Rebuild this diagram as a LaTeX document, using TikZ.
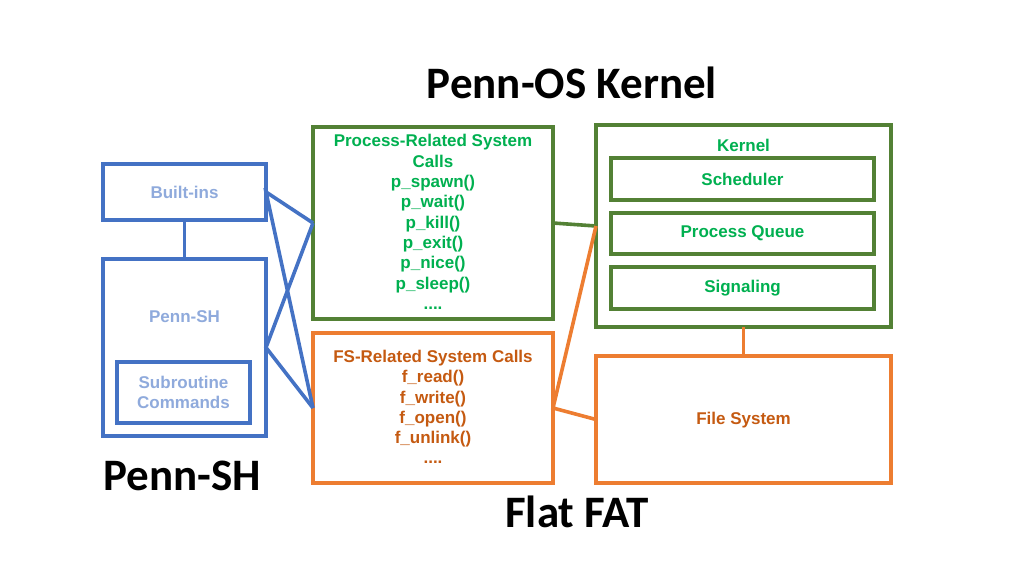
\documentclass[tikz,border=0pt]{standalone}
\usepackage{fontspec}
\setmainfont{Liberation Sans}
\newfontfamily\titlefont{Carlito}
\definecolor{bblue}{HTML}{4472C4}
\definecolor{tblue}{HTML}{8FAADC}
\definecolor{bgreen}{HTML}{538135}
\definecolor{tgreen}{HTML}{00B050}
\definecolor{borange}{HTML}{ED7D31}
\definecolor{torange}{HTML}{C55A11}
\begin{document}
\begin{tikzpicture}[x=1pt,y=-1pt,
  box/.style={draw,line width=3.6pt,inner sep=0pt,outer sep=0pt,fill=white},
  bluebox/.style={box,draw=bblue},
  greenbox/.style={box,draw=bgreen},
  orangebox/.style={box,draw=borange},
  txt/.style={inner sep=0pt,align=center,font=\fontsize{17}{20.3}\selectfont\bfseries},
  bluetxt/.style={txt,text=tblue},
  greentxt/.style={txt,text=tgreen},
  orangetxt/.style={txt,text=torange},
  title/.style={inner sep=0pt,font=\titlefont\fontsize{45}{50}\selectfont\bfseries,text=black},
  blueline/.style={draw=bblue,line width=3.6pt},
  greenline/.style={draw=bgreen,line width=3.6pt},
  orangeline/.style={draw=borange,line width=3.6pt}]
\useasboundingbox (0,0) rectangle (1024,576);
% connectors first (behind boxes)
\coordinate (ph) at (184.5,347.5);
% boxes
\node[bluebox,minimum width=163pt,minimum height=56pt] (builtins) at (184.5,192) {};
\node[bluebox,minimum width=163pt,minimum height=177pt] (pennsh) at (184.5,347.5) {};
\node[bluebox,minimum width=133pt,minimum height=61pt] (subr) at (183.5,392.5) {};
\node[greenbox,minimum width=240pt,minimum height=192pt] (proc) at (433,223) {};
\node[orangebox,minimum width=240pt,minimum height=150pt] (fs) at (433,408) {};
\node[greenbox,minimum width=295pt,minimum height=202pt] (kernel) at (743.5,226) {};
\node[greenbox,minimum width=263pt,minimum height=42pt] (sched) at (742.5,179) {};
\node[greenbox,minimum width=263pt,minimum height=41pt] (pq) at (742.5,233.5) {};
\node[greenbox,minimum width=263pt,minimum height=42pt] (sig) at (742.5,288) {};
\node[orangebox,minimum width=295pt,minimum height=127pt] (filesys) at (743.5,419.5) {};
% connectors
\draw[blueline] (builtins.south) -- (pennsh.north);
\draw[blueline,line join=miter] (proc.west) -- (builtins.east) -- (fs.west);
\draw[blueline,line join=miter] (proc.west) -- (pennsh.east) -- (fs.west);
\draw[greenline] (proc.east) -- (kernel.west);
\draw[orangeline,line join=miter] (kernel.west) -- (fs.east) -- (filesys.west);
\draw[orangeline] (kernel.south) -- (filesys.north);
% texts
\node[bluetxt] (tbuiltins) at (184.5,192) {Built-ins};
\node[bluetxt] (tpennsh) at (184.5,317) {Penn-SH};
\node[bluetxt] (tsubr) at (183.5,392.5) {Subroutine\\Commands};
\node[greentxt] (tproc) at (433,222) {Process-Related System\\Calls\\p\_spawn()\\p\_wait()\\p\_kill()\\p\_exit()\\p\_nice()\\p\_sleep()\\....};
\node[orangetxt] (tfs) at (433,407) {FS-Related System Calls\\f\_read()\\f\_write()\\f\_open()\\f\_unlink()\\....};
\node[greentxt] (tkernel) at (743.5,145) {Kernel};
\node[greentxt] (tsched) at (742.5,179) {Scheduler};
\node[greentxt] (tpq) at (742.5,233.5) {Process Queue};
\node[greentxt] (tsig) at (742.5,288) {Signaling};
\node[orangetxt] (tfilesys) at (743.5,420) {File System};
% titles
\node[title] (t1) at (572,83) {Penn-OS Kernel};
\node[title] (t2) at (182,476) {Penn-SH};
\node[title] (t3) at (577,512) {Flat FAT};
\end{tikzpicture}
\end{document}
